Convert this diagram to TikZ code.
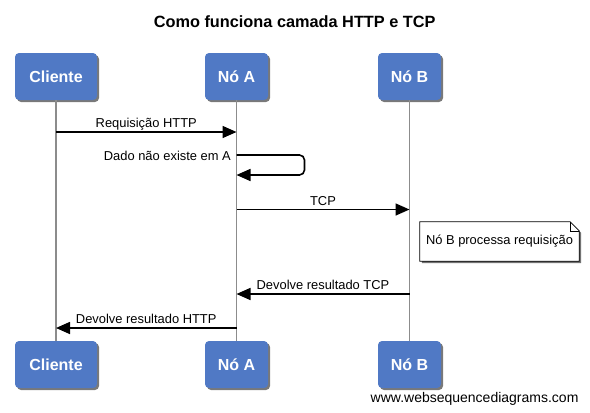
\documentclass[tikz,border=0pt]{standalone}
\usepackage{fontspec}
\setmainfont{Liberation Sans}
\usetikzlibrary{arrows.meta,shadows,backgrounds}
\definecolor{actorblue}{RGB}{80,121,197}
\definecolor{lifegray}{RGB}{140,140,140}

\begin{document}
\begin{tikzpicture}[x=1pt,y=-1pt,
    actor/.style={rounded corners=4pt, fill=actorblue, text=white,
        minimum height=47pt, text height=11.5pt, text depth=0pt,
        font=\fontsize{16}{18}\selectfont\bfseries,
        drop shadow={shadow xshift=2pt, shadow yshift=-2pt, opacity=0.7, fill=black!75}},
    lifeline/.style={draw=lifegray, line width=1.9pt},
    msg/.style={line width=1.6pt, -{Triangle[length=14pt,width=12pt]}},
    lbl/.style={font=\fontsize{12.9}{14}\selectfont, inner sep=0pt}]
                \useasboundingbox (0,0) rectangle (590,413);

                % Title
                \node[font=\fontsize{16.3}{19}\selectfont\bfseries, anchor=base] (title) at (294.7,27) {Como funciona camada HTTP e TCP};

                % Define node positions
                \node[actor, minimum width=82pt] (cliTop) at (56,76.5) {Cliente};
                \node[actor, minimum width=63pt] (noATop) at (236.5,76.5) {Nó A};
                \node[actor, minimum width=63pt] (noBTop) at (409.5,76.5) {Nó B};
                \node[actor, minimum width=82pt] (cliBot) at (56,364.5) {Cliente};
                \node[actor, minimum width=63pt] (noABot) at (236.5,364.5) {Nó A};
                \node[actor, minimum width=63pt] (noBBot) at (409.5,364.5) {Nó B};

                % Lifelines
                \draw[lifeline] (cliTop) -- (cliBot);
                \draw[lifeline] (noATop) -- (noABot);
                \draw[lifeline] (noBTop) -- (noBBot);

                % Message end points
                \coordinate (reqC) at (56,132);
                \coordinate (reqA) at (236.5,132);
                \coordinate (loopS) at (236.5,155);
                \coordinate (loopE) at (236.5,175);
                \coordinate (tcpA) at (236.5,209.5);
                \coordinate (tcpB) at (409.5,209.5);
                \coordinate (resB) at (409.5,294);
                \coordinate (resA) at (236.5,294);
                \coordinate (htpA) at (236.5,328);
                \coordinate (htpC) at (56,328);

                % Draw arrows
                \draw[msg] (reqC) -- (reqA) node[lbl, midway, anchor=base, yshift=5pt] {Requisição HTTP};
                \draw[msg, rounded corners=5pt] (loopS) -- ++(68,0) -- ++(0,20) -- (loopE);
                \node[lbl, anchor=base east] (loopLbl) at (231,160.5) {Dado não existe em A};
                \draw[msg] (tcpA) -- (tcpB) node[lbl, midway, anchor=base, yshift=4.5pt] {TCP};
                \draw[msg] (resB) -- (resA) node[lbl, midway, anchor=base, yshift=4.5pt] {Devolve resultado TCP};
                \draw[msg] (htpA) -- (htpC) node[lbl, midway, anchor=base, yshift=4.5pt] {Devolve resultado HTTP};

                % Note on Nó B
                \node[lbl, minimum width=159pt, minimum height=39pt] (note) at (499.5,241.5) {Nó B processa requisição};
                \begin{scope}[on background layer]
                    \fill[black!55] ([xshift=2pt,yshift=-2pt]note.north west) -- ([xshift=-7pt,yshift=-2pt]note.north east)
                        -- ([xshift=2pt,yshift=-11pt]note.north east) -- ([xshift=2pt,yshift=-2pt]note.south east)
                        -- ([xshift=2pt,yshift=-2pt]note.south west) -- cycle;
                    \filldraw[fill=white, draw=black, line width=0.8pt] (note.north west) -- ([xshift=-9pt]note.north east)
                        -- ([yshift=-9pt]note.north east) -- (note.south east) -- (note.south west) -- cycle;
                \end{scope}
                \draw[line width=0.6pt] ([xshift=-9pt]note.north east) |- ([yshift=-9pt]note.north east);

                % Watermark
                \node[font=\fontsize{14}{16}\selectfont, anchor=base east] (wsd) at (582,402) {www.websequencediagrams.com};
            \end{tikzpicture}
\end{document}
